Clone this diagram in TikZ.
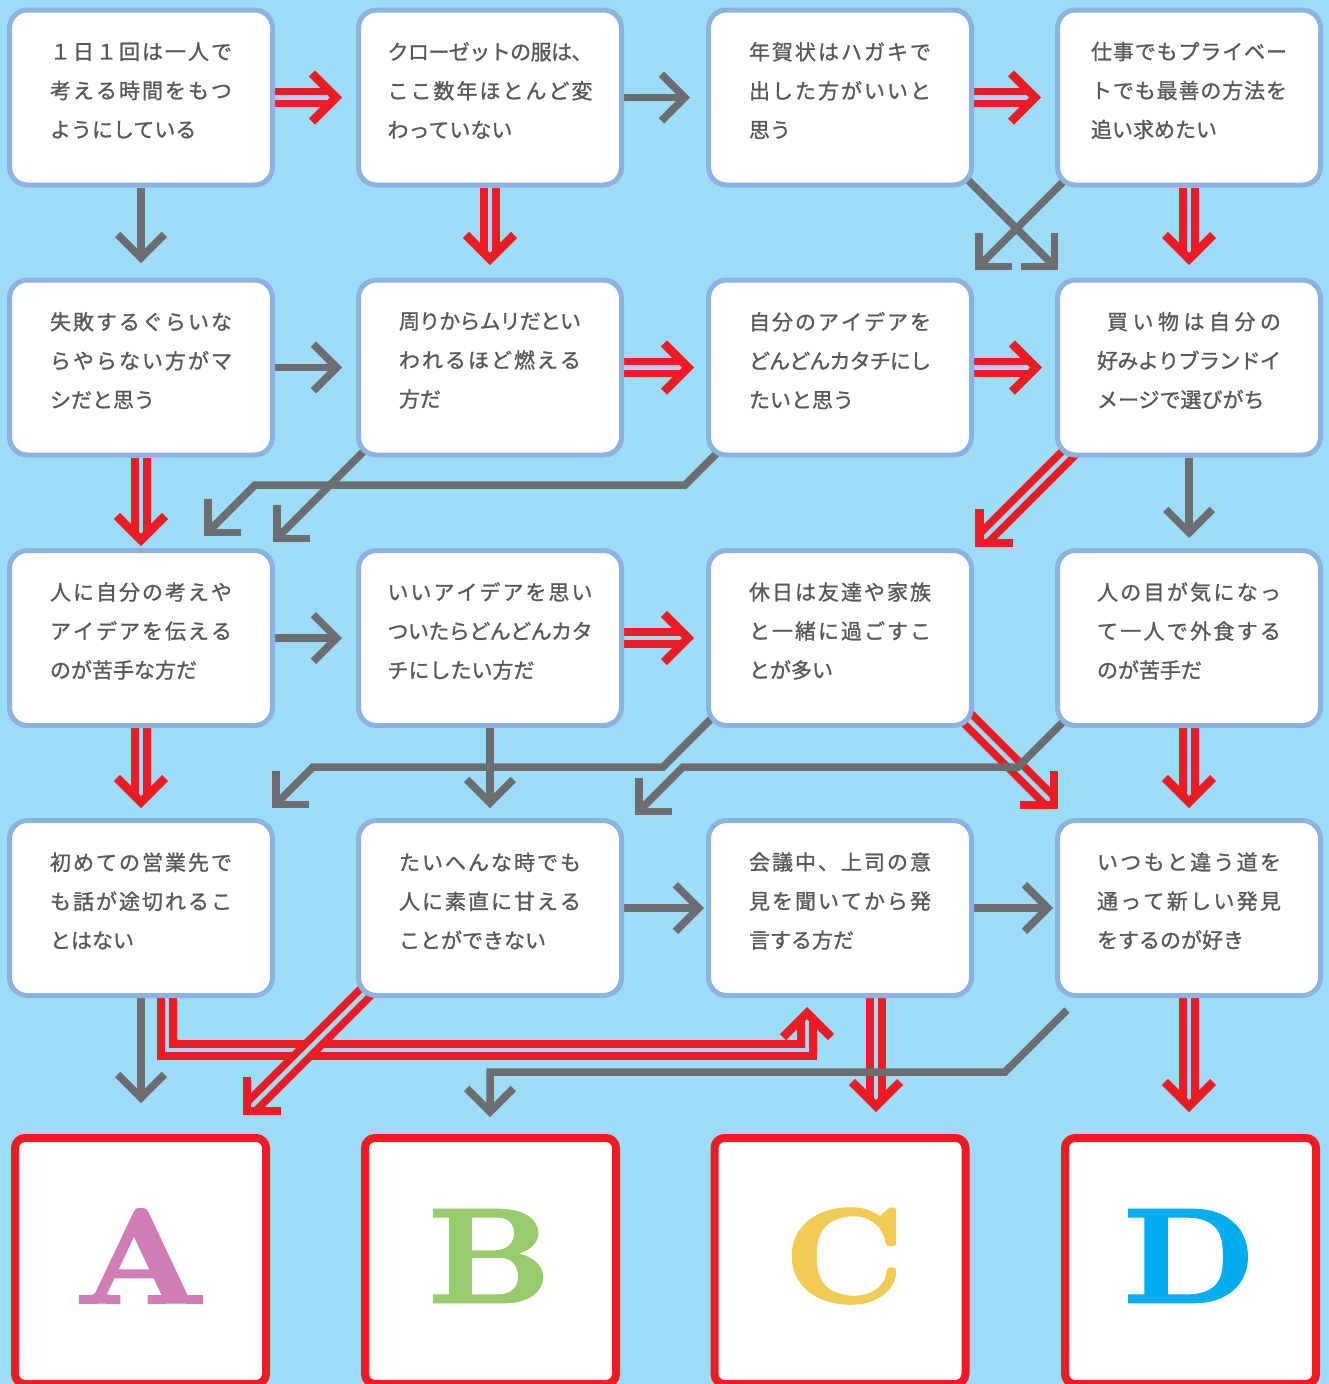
\documentclass[tikz,border=0pt]{standalone}
\usepackage{fontspec}
\usepackage{graphicx}
\newfontfamily\jp[FakeBold=1]{Noto Sans CJK JP}
\newfontfamily\lmbig[FakeBold=2]{lmroman10-bold.otf}
\usetikzlibrary{calc}
\definecolor{bgc}{RGB}{157,220,247}
\definecolor{boxc}{RGB}{140,178,224}
\definecolor{redc}{RGB}{237,28,36}
\definecolor{grayc}{RGB}{108,109,113}
\definecolor{txtc}{RGB}{89,87,87}
\definecolor{acol}{RGB}{206,126,180}
\definecolor{bcol}{RGB}{151,203,107}
\definecolor{ccol}{RGB}{242,203,85}
\definecolor{dcol}{RGB}{0,174,239}
\pgfdeclarelayer{back}
\pgfdeclarelayer{conn}
\pgfsetlayers{back,conn,main}
\newcommand\jglue{\hskip 0pt plus 1fil minus 1fil\relax}
\ExplSyntaxOn
\NewDocumentCommand\jline{mm}{\makebox[#1pt][s]{\tl_map_inline:nn{#2}{##1\jglue}\unskip}}
\ExplSyntaxOff
\newcommand\ghead[2]{%
  \coordinate (hv) at ($(#1)!5.3pt!(#2)$);
  \draw[gh] ($(hv)!33pt!45:(#2)$) -- (hv) -- ($(hv)!33pt!-45:(#2)$);}
\newcommand\rhead[2]{%
  \coordinate (hv) at ($(#1)!6pt!(#2)$);
  \draw[rh] ($(hv)!34pt!45:(#2)$) -- (hv) -- ($(hv)!34pt!-45:(#2)$);}
\newcommand\gconn[3]{\draw[gl] #1 -- ($(#3)!6pt!(#2)$); \ghead{#3}{#2}}
\newcommand\rconn[3]{\draw[rl] #1 -- ($(#3)!14pt!(#2)$); \rhead{#3}{#2}}
\begin{document}
\begin{tikzpicture}[x=1pt,y=-1pt,
  qbox/.style={draw=boxc, line width=5pt, fill=white, rounded corners=18pt, minimum width=263pt, minimum height=175pt, inner sep=0pt},
  qtxt/.style={text=txtc, font=\jp\fontsize{21pt}{39pt}\selectfont, align=left, inner sep=0pt},
  abox/.style={draw=redc, line width=8pt, fill=white, rounded corners=10pt, minimum width=251pt, minimum height=246pt, inner sep=0pt},
  letter/.style={font=\lmbig\fontsize{134pt}{134pt}\selectfont, inner sep=0pt},
  gl/.style={draw=grayc, line width=7.5pt, line join=miter},
  gh/.style={draw=grayc, line width=7.5pt, line join=miter},
  rl/.style={draw=redc, line width=7.5pt, double=bgc, double distance=4.5pt, line join=miter},
  rh/.style={draw=redc, line width=8.5pt, line join=miter}]
\useasboundingbox (0,0) rectangle (1329,1384);
\begin{pgfonlayer}{back}
\fill[bgc] (0,0) rectangle (1329,1384);
\end{pgfonlayer}
% question boxes
\node[qbox] (n11) at (141,97.5) {};
\node[qbox] (n12) at (490,97.5) {};
\node[qbox] (n13) at (840,97.5) {};
\node[qbox] (n14) at (1189,97.5) {};
\node[qbox] (n21) at (141,367.5) {};
\node[qbox] (n22) at (490,367.5) {};
\node[qbox] (n23) at (840,367.5) {};
\node[qbox] (n24) at (1189,367.5) {};
\node[qbox] (n31) at (141,638) {};
\node[qbox] (n32) at (490,638) {};
\node[qbox] (n33) at (840,638) {};
\node[qbox] (n34) at (1189,638) {};
\node[qbox] (n41) at (141,908) {};
\node[qbox] (n42) at (490,908) {};
\node[qbox] (n43) at (840,908) {};
\node[qbox] (n44) at (1189,908) {};
% texts
\node[qtxt] (t11) at ([shift={(0,-7)}]n11.center) {\jline{182}{１日１回は一人で}\\\jline{182}{考える時間をもつ}\\ようにしている};
\node[qtxt] (t12) at ([shift={(0,-7)}]n12.center) {\jline{205}{クローゼットの服は、}\\\jline{205}{ここ数年ほとんど変}\\わっていない};
\node[qtxt] (t13) at ([shift={(0,-7)}]n13.center) {\jline{182}{年賀状はハガキで}\\\jline{182}{出した方がいいと}\\思う};
\node[qtxt] (t14) at ([shift={(0,-7)}]n14.center) {\jline{196}{仕事でもプライベー}\\\jline{196}{トでも最善の方法を}\\追い求めたい};
\node[qtxt] (t21) at ([shift={(0,-7)}]n21.center) {\jline{182}{失敗するぐらいな}\\\jline{182}{らやらない方がマ}\\シだと思う};
\node[qtxt] (t22) at ([shift={(0,-7)}]n22.center) {\jline{182}{周りからムリだとい}\\\jline{182}{われるほど燃える}\\方だ};
\node[qtxt] (t23) at ([shift={(0,-7)}]n23.center) {\jline{182}{自分のアイデアを}\\\jline{182}{どんどんカタチにし}\\たいと思う};
\node[qtxt] (t24) at ([shift={(0,-7)}]n24.center) {\hspace*{10pt}\jline{174}{買い物は自分の}\\\jline{184}{好みよりブランドイ}\\メージで選びがち};
\node[qtxt] (t31) at ([shift={(0,-7)}]n31.center) {\jline{182}{人に自分の考えや}\\\jline{182}{アイデアを伝える}\\のが苦手な方だ};
\node[qtxt] (t32) at ([shift={(0,-7)}]n32.center) {\jline{205}{いいアイデアを思い}\\\jline{205}{ついたらどんどんカタ}\\チにしたい方だ};
\node[qtxt] (t33) at ([shift={(0,-7)}]n33.center) {\jline{182}{休日は友達や家族}\\\jline{182}{と一緒に過ごすこ}\\とが多い};
\node[qtxt] (t34) at ([shift={(0,-7)}]n34.center) {\jline{184}{人の目が気になっ}\\\jline{184}{て一人で外食する}\\のが苦手だ};
\node[qtxt] (t41) at ([shift={(0,-7)}]n41.center) {\jline{182}{初めての営業先で}\\\jline{182}{も話が途切れるこ}\\とはない};
\node[qtxt] (t42) at ([shift={(0,-7)}]n42.center) {\jline{182}{たいへんな時でも}\\\jline{182}{人に素直に甘える}\\ことができない};
\node[qtxt] (t43) at ([shift={(0,-7)}]n43.center) {\jline{182}{会議中、上司の意}\\\jline{182}{見を聞いてから発}\\言する方だ};
\node[qtxt] (t44) at ([shift={(0,-7)}]n44.center) {\jline{184}{いつもと違う道を}\\\jline{184}{通って新しい発見}\\をするのが好き};
% answer boxes
\node[abox] (A) at (140.5,1261) {};
\node[abox] (B) at (490.5,1261) {};
\node[abox] (C) at (840,1261) {};
\node[abox] (D) at (1190.5,1261) {};
\node[letter, text=acol] (la) at (141,1256) {\scalebox{1.15}[1]{A}};
\node[letter, text=bcol] (lb) at (490,1256) {\scalebox{1.12}[1]{B}};
\node[letter, text=ccol] (lc) at (844,1256) {\scalebox{1.08}[1]{C}};
\node[letter, text=dcol] (ld) at (1190,1256) {\scalebox{1.12}[1]{D}};
\begin{pgfonlayer}{conn}
% red connectors
\coordinate (r1t) at ([shift={(-14,0)}]n12.west);
\coordinate (r2t) at ([shift={(-14,0)}]n14.west);
\coordinate (r3t) at ([shift={(0,-12.5)}]n22.north);
\coordinate (r4t) at ([shift={(0,-12.5)}]n24.north);
\coordinate (r5t) at ([shift={(-12,0)}]n23.west);
\coordinate (r6t) at ([shift={(-13,0)}]n24.west);
\coordinate (r7t) at ([shift={(0,-2)}]n31.north);
\coordinate (r8s) at ([shift={(20,-10.5)}]n24.south west);
\coordinate (r8t) at ([shift={(1,-1)}]n33.north east);
\coordinate (r9t) at ([shift={(-12,0)}]n33.west);
\coordinate (r10t) at ([shift={(0,-10)}]n41.north);
\coordinate (r11s) at ([shift={(-16,-19)}]n33.south east);
\coordinate (r11t) at ([shift={(3,-9)}]n44.north west);
\coordinate (r12t) at ([shift={(0,-10)}]n44.north);
\coordinate (r13s) at ([shift={(26,-13)}]n41.south);
\coordinate (r13a) at ([shift={(26,52)}]n41.south);
\coordinate (r13b) at ([shift={(-33,52)}]n43.south);
\coordinate (r13t) at ([shift={(-33,9)}]n43.south);
\coordinate (r14s) at ([shift={(27,-23)}]n42.south west);
\coordinate (r14t) at ([shift={(-27,-19)}]A.north east);
\coordinate (r15s) at ([shift={(36,-8)}]n43.south);
\coordinate (r15t) at ([shift={(36,-22)}]C.north);
\coordinate (r16t) at ([shift={(-1.5,-22)}]D.north);
\rconn{(n11.east)}{n11.east}{r1t}
\rconn{(n13.east)}{n13.east}{r2t}
\rconn{(n12.south)}{n12.south}{r3t}
\rconn{(n14.south)}{n14.south}{r4t}
\rconn{(n22.east)}{n22.east}{r5t}
\rconn{(n23.east)}{n23.east}{r6t}
\rconn{(n21.south)}{n21.south}{r7t}
\rconn{(r8s)}{r8s}{r8t}
\rconn{(n32.east)}{n32.east}{r9t}
\rconn{(n31.south)}{n31.south}{r10t}
\rconn{(r11s)}{r11s}{r11t}
\rconn{(n34.south)}{n34.south}{r12t}
\rconn{(r13s) -- (r13a) -- (r13b)}{r13b}{r13t}
\rconn{(r14s)}{r14s}{r14t}
\rconn{(r15s)}{r15s}{r15t}
\rconn{(n44.south)}{n44.south}{r16t}
% gray connectors
\coordinate (g1t) at ([shift={(0,-14.5)}]n21.north);
\coordinate (g2t) at ([shift={(-16,0)}]n13.west);
\coordinate (g3s) at ([shift={(-16,-17.5)}]n13.south east);
\coordinate (g3t) at ([shift={(3,-7.5)}]n24.north west);
\coordinate (g4s) at ([shift={(20,-17.5)}]n14.south west);
\coordinate (g4t) at ([shift={(1,-7.5)}]n23.north east);
\coordinate (g5t) at ([shift={(-14,0)}]n22.west);
\coordinate (g6s) at ([shift={(22,-20.5)}]n22.south west);
\coordinate (g6t) at ([shift={(-2,-6)}]n31.north east);
\coordinate (g7s) at ([shift={(19,-12.5)}]n23.south west);
\coordinate (g7a) at ([shift={(-21,27.5)}]n23.south west);
\coordinate (g7b) at ([shift={(-20,-63)}]n31.north east);
\coordinate (g7t) at ([shift={(-71,-12)}]n31.north east);
\coordinate (g8t) at ([shift={(0,-10)}]n34.north);
\coordinate (g9t) at ([shift={(-14,0)}]n32.west);
\coordinate (g10t) at ([shift={(0,-10)}]n42.north);
\coordinate (g11s) at ([shift={(17,-21)}]n33.south west);
\coordinate (g11a) at ([shift={(-43,39)}]n33.south west);
\coordinate (g11b) at ([shift={(38,-51)}]n41.north east);
\coordinate (g11t) at ([shift={(-3,-10)}]n41.north east);
\coordinate (g12s) at ([shift={(23,-21)}]n34.south west);
\coordinate (g12a) at ([shift={(-37,39)}]n34.south west);
\coordinate (g12b) at ([shift={(59,-51)}]n42.north east);
\coordinate (g12t) at ([shift={(11,-3)}]n42.north east);
\coordinate (g13t) at ([shift={(-2,0)}]n43.west);
\coordinate (g14t) at ([shift={(-2,0)}]n44.west);
\coordinate (g15t) at ([shift={(0.5,-31)}]A.north);
\coordinate (g16s) at ([shift={(12,12)}]n44.south west);
\coordinate (g16a) at ([shift={(-50,74)}]n44.south west);
\coordinate (g16b) at ([shift={(-0.5,-62)}]B.north);
\coordinate (g16t) at ([shift={(-0.5,-17)}]B.north);
\gconn{(n11.south)}{n11.south}{g1t}
\gconn{(n12.east)}{n12.east}{g2t}
\gconn{(g3s)}{g3s}{g3t}
\gconn{(g4s)}{g4s}{g4t}
\gconn{(n21.east)}{n21.east}{g5t}
\gconn{(g6s)}{g6s}{g6t}
\gconn{(g7s) -- (g7a) -- (g7b)}{g7b}{g7t}
\gconn{(n24.south)}{n24.south}{g8t}
\gconn{(n31.east)}{n31.east}{g9t}
\gconn{(n32.south)}{n32.south}{g10t}
\gconn{(g11s) -- (g11a) -- (g11b)}{g11b}{g11t}
\gconn{(g12s) -- (g12a) -- (g12b)}{g12b}{g12t}
\gconn{(n42.east)}{n42.east}{g13t}
\gconn{(n43.east)}{n43.east}{g14t}
\gconn{(n41.south)}{n41.south}{g15t}
\gconn{(g16s) -- (g16a) -- (g16b)}{g16b}{g16t}
\end{pgfonlayer}
\end{tikzpicture}
\end{document}
